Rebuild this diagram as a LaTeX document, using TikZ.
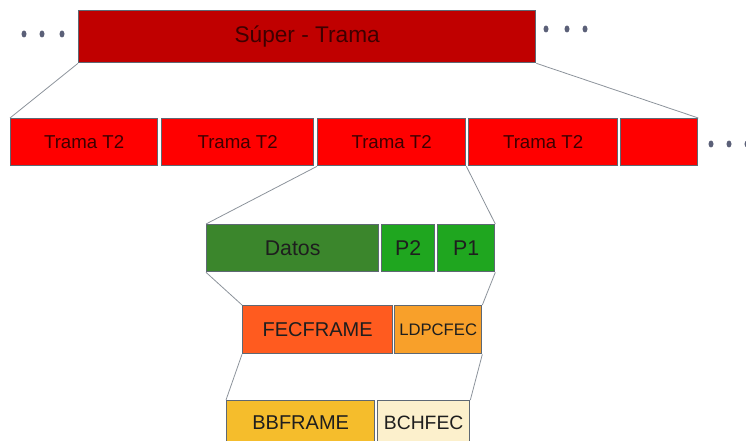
\documentclass[tikz,border=0pt]{standalone}
\usepackage{fontspec}
\setmainfont{Liberation Sans}
\usepackage{tikz}

\definecolor{superred}{HTML}{C00000}
\definecolor{tramared}{HTML}{FF0000}
\definecolor{datosgreen}{HTML}{3B862C}
\definecolor{pgreen}{HTML}{1FA61F}
\definecolor{fecorange}{HTML}{FF5B1F}
\definecolor{ldpcorange}{HTML}{F8A02A}
\definecolor{bbgold}{HTML}{F5BD2C}
\definecolor{bchcream}{HTML}{FCF0CC}
\definecolor{framegray}{HTML}{5E6873}
\definecolor{linkgray}{HTML}{8C939B}
\definecolor{dotgray}{HTML}{5B6078}
\definecolor{redtext}{HTML}{3E0000}
\definecolor{darktext}{HTML}{1E1E1E}

\newcommand{\px}{0.75pt}

\tikzset{
    frame/.style={draw=framegray, line width=1pt, anchor=north west, inner sep=0pt,
        text=darktext, font=\fontsize{15}{17}\selectfont},
    link/.style={draw=linkgray, line width=0.6pt},
}

\begin{document}
\begin{tikzpicture}[x=\px, y=-\px]
    \useasboundingbox (0,0) rectangle (746,441);

    \node[frame, fill=superred, text=redtext, minimum width=457*\px, minimum height=52*\px,
        font=\fontsize{17}{19}\selectfont] (super) at (78,10) {Súper - Trama};

    \node[frame, fill=tramared, text=redtext, minimum width=147*\px, minimum height=47*\px,
        font=\fontsize{14}{16}\selectfont] (t1) at (10,118) {Trama T2};
    \node[frame, fill=tramared, text=redtext, minimum width=152*\px, minimum height=47*\px,
        font=\fontsize{14}{16}\selectfont] (t2) at (161,118) {Trama T2};
    \node[frame, fill=tramared, text=redtext, minimum width=148*\px, minimum height=47*\px,
        font=\fontsize{14}{16}\selectfont] (t3) at (317,118) {Trama T2};
    \node[frame, fill=tramared, text=redtext, minimum width=149*\px, minimum height=47*\px,
        font=\fontsize{14}{16}\selectfont] (t4) at (468,118) {Trama T2};
    \node[frame, fill=tramared, minimum width=77*\px, minimum height=47*\px] (t5) at (620,118) {};

    \node[frame, fill=datosgreen, minimum width=172*\px, minimum height=47*\px,
        font=\fontsize{16}{18}\selectfont] (datos) at (206,224) {Datos};
    \node[frame, fill=pgreen, minimum width=53*\px, minimum height=47*\px,
        font=\fontsize{16}{18}\selectfont] (p2) at (381,224) {P2};
    \node[frame, fill=pgreen, minimum width=57*\px, minimum height=47*\px,
        font=\fontsize{16}{18}\selectfont] (p1) at (437,224) {P1};

    \node[frame, fill=fecorange, minimum width=150*\px, minimum height=48*\px] (fec) at (242,305) {FECFRAME};
    \node[frame, fill=ldpcorange, minimum width=87*\px, minimum height=48*\px,
        font=\fontsize{12.5}{14}\selectfont] (ldpc) at (394,305) {LDPCFEC};

    \node[frame, fill=bbgold, minimum width=148*\px, minimum height=44*\px] (bb) at (226,400) {BBFRAME};
    \node[frame, fill=bchcream, minimum width=92*\px, minimum height=44*\px,
        font=\fontsize{14.5}{16}\selectfont] (bch) at (377,400) {BCHFEC};

    \draw[link] (super.south west) -- (t1.north west);
    \draw[link] (super.south east) -- (t5.north east);
    \draw[link] (t3.south west) -- (datos.north west);
    \draw[link] (t3.south east) -- (p1.north east);
    \draw[link] (datos.south west) -- (fec.north west);
    \draw[link] (p1.south east) -- (ldpc.north east);
    \draw[link] (fec.south west) -- (bb.north west);
    \draw[link] (ldpc.south east) -- (bch.north east);

    \foreach \x in {24,42,62}
        \fill[dotgray] (\x,34) ellipse [x radius=2.5, y radius=3.5];
    \foreach \x in {546,567,585}
        \fill[dotgray] (\x,29) ellipse [x radius=2.5, y radius=3.5];
    \foreach \x in {711,729,747}
        \fill[dotgray] (\x,144) ellipse [x radius=2.5, y radius=3.5];
\end{tikzpicture}
\end{document}
